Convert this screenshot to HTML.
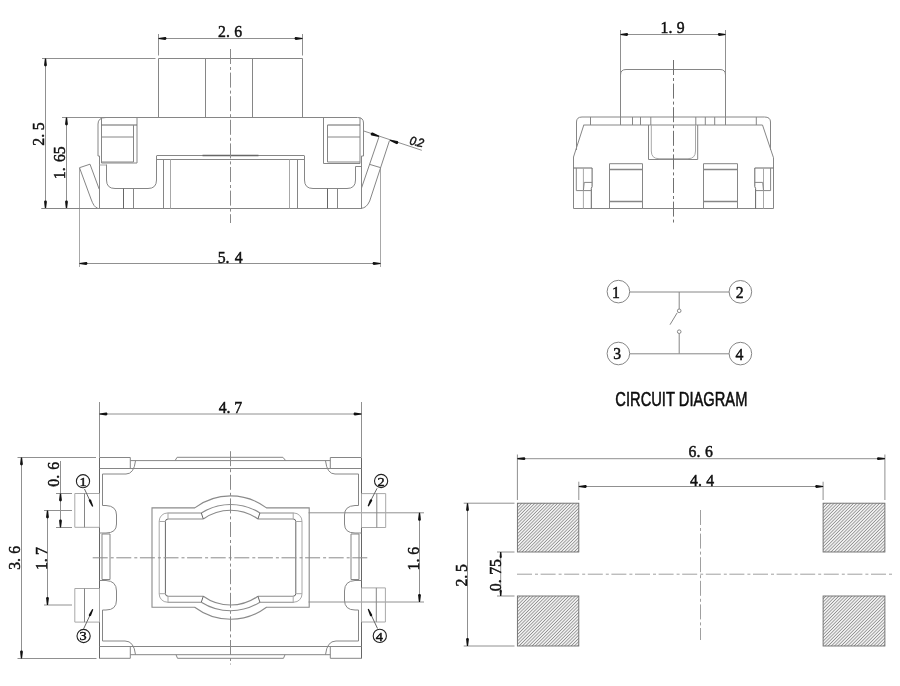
<!DOCTYPE html>
<html><head><meta charset="utf-8"><style>
html,body{margin:0;padding:0;background:#fff;}
svg{display:block;}
</style></head><body>
<svg width="900" height="686" viewBox="0 0 900 686" style="will-change:transform">
<rect width="900" height="686" fill="#fff"/>
<line x1="158.5" y1="34" x2="158.5" y2="55.5" stroke="#909090" stroke-width="1" />
<line x1="302.5" y1="34" x2="302.5" y2="55.5" stroke="#909090" stroke-width="1" />
<line x1="158.5" y1="38.5" x2="302.5" y2="38.5" stroke="#909090" stroke-width="1" />
<path d="M158.50,39.10 L165.10,39.90 C166.90,39.90 166.90,37.10 165.10,37.10 L158.50,37.90 Z" fill="#111" stroke="none"/>
<path d="M302.50,37.90 L295.90,37.10 C294.10,37.10 294.10,39.90 295.90,39.90 L302.50,39.10 Z" fill="#111" stroke="none"/>
<text transform="translate(218.07 37) scale(0.91 1)" x="0" y="0" font-family="Liberation Serif" font-size="17.3" fill="#111" stroke="#111" stroke-width="0.5">2.</text>
<text transform="translate(234.37 37) scale(0.91 1)" x="0" y="0" font-family="Liberation Serif" font-size="17.3" fill="#111" stroke="#111" stroke-width="0.5">6</text>
<line x1="42" y1="58.5" x2="155.5" y2="58.5" stroke="#909090" stroke-width="1" />
<line x1="41.5" y1="208.5" x2="97.5" y2="208.5" stroke="#909090" stroke-width="1" />
<line x1="45.5" y1="58.5" x2="45.5" y2="208.5" stroke="#909090" stroke-width="1" />
<path d="M44.90,58.50 L44.10,65.10 C44.10,66.90 46.90,66.90 46.90,65.10 L46.10,58.50 Z" fill="#111" stroke="none"/>
<path d="M46.10,208.50 L46.90,201.90 C46.90,200.10 44.10,200.10 44.10,201.90 L44.90,208.50 Z" fill="#111" stroke="none"/>
<text transform="translate(44 145.73) rotate(-90) scale(0.91 1)" x="0" y="0" font-family="Liberation Serif" font-size="17.3" fill="#111" stroke="#111" stroke-width="0.5">2.</text>
<text transform="translate(44 130.24) rotate(-90) scale(0.91 1)" x="0" y="0" font-family="Liberation Serif" font-size="17.3" fill="#111" stroke="#111" stroke-width="0.5">5</text>
<line x1="62" y1="117.5" x2="106" y2="117.5" stroke="#909090" stroke-width="1" />
<line x1="66.5" y1="117.5" x2="66.5" y2="208.5" stroke="#909090" stroke-width="1" />
<path d="M65.90,117.50 L65.10,124.10 C65.10,125.90 67.90,125.90 67.90,124.10 L67.10,117.50 Z" fill="#111" stroke="none"/>
<path d="M67.10,208.50 L67.90,201.90 C67.90,200.10 65.10,200.10 65.10,201.90 L65.90,208.50 Z" fill="#111" stroke="none"/>
<text transform="translate(65 179.22) rotate(-90) scale(0.91 1)" x="0" y="0" font-family="Liberation Serif" font-size="17.3" fill="#111" stroke="#111" stroke-width="0.5">1.</text>
<text transform="translate(65 162.03) rotate(-90) scale(0.91 1)" x="0" y="0" font-family="Liberation Serif" font-size="17.3" fill="#111" stroke="#111" stroke-width="0.5">65</text>
<line x1="79.5" y1="168" x2="79.5" y2="267" stroke="#a8a8a8" stroke-width="1" />
<line x1="380.5" y1="168" x2="380.5" y2="267" stroke="#a8a8a8" stroke-width="1" />
<line x1="79.5" y1="263.5" x2="380.5" y2="263.5" stroke="#909090" stroke-width="1" />
<path d="M79.50,264.10 L86.10,264.90 C87.90,264.90 87.90,262.10 86.10,262.10 L79.50,262.90 Z" fill="#111" stroke="none"/>
<path d="M380.50,262.90 L373.90,262.10 C372.10,262.10 372.10,264.90 373.90,264.90 L380.50,264.10 Z" fill="#111" stroke="none"/>
<text transform="translate(217.76 262.9) scale(0.91 1)" x="0" y="0" font-family="Liberation Serif" font-size="17.3" fill="#111" stroke="#111" stroke-width="0.5">5.</text>
<text transform="translate(234.69 262.9) scale(0.91 1)" x="0" y="0" font-family="Liberation Serif" font-size="17.3" fill="#111" stroke="#111" stroke-width="0.5">4</text>
<path d="M158.5,117 V58.5 H302.5 V117" stroke="#868686" stroke-width="1" fill="none" />
<line x1="205.5" y1="58.5" x2="205.5" y2="117" stroke="#868686" stroke-width="1" />
<line x1="252.5" y1="58.5" x2="252.5" y2="117" stroke="#868686" stroke-width="1" />
<path d="M106,117.5 H357.5 Q363.5,117.5 363.5,123 V156 H361.5 V208.5" stroke="#868686" stroke-width="1" fill="none" />
<path d="M106,117.5 Q98,117.5 98,124 V156 H99.5 V208.5" stroke="#868686" stroke-width="1" fill="none" />
<line x1="41.5" y1="208.5" x2="362" y2="208.5" stroke="#868686" stroke-width="1" />
<path d="M101.5,117.5 V163 H137 V117.5" stroke="#868686" stroke-width="1" fill="none" />
<line x1="101.5" y1="125" x2="137" y2="125" stroke="#666" stroke-width="1" />
<line x1="101.5" y1="137" x2="133.5" y2="137" stroke="#868686" stroke-width="1" />
<line x1="133.5" y1="125" x2="133.5" y2="162" stroke="#868686" stroke-width="1" />
<line x1="101.5" y1="162" x2="133.5" y2="162" stroke="#868686" stroke-width="1" />
<line x1="99.5" y1="165" x2="106.4" y2="165" stroke="#a8a8a8" stroke-width="1" />
<path d="M106.5,164.5 V180 Q106.5,188.5 115,188.5 H148 Q156.5,188.5 156.5,180 V156" stroke="#868686" stroke-width="1" fill="none" />
<line x1="156.5" y1="155.5" x2="304.5" y2="155.5" stroke="#868686" stroke-width="1" />
<line x1="156.5" y1="159.5" x2="304.5" y2="159.5" stroke="#868686" stroke-width="1" />
<line x1="202.5" y1="155.5" x2="258.5" y2="155.5" stroke="#666" stroke-width="1.4" />
<line x1="123.5" y1="188.5" x2="123.5" y2="208.5" stroke="#666" stroke-width="1" />
<line x1="133.5" y1="188.5" x2="133.5" y2="208.5" stroke="#868686" stroke-width="1" />
<line x1="163.5" y1="159.5" x2="163.5" y2="208.5" stroke="#868686" stroke-width="1" />
<line x1="170.5" y1="159.5" x2="170.5" y2="208.5" stroke="#a8a8a8" stroke-width="1" />
<line x1="289.5" y1="159.5" x2="289.5" y2="208.5" stroke="#a8a8a8" stroke-width="1" />
<line x1="297.5" y1="159.5" x2="297.5" y2="208.5" stroke="#868686" stroke-width="1" />
<path d="M304.5,156 V180 Q304.5,188.5 313,188.5 H347 Q355.5,188.5 355.5,180 V166.5 H361.5" stroke="#868686" stroke-width="1" fill="none" />
<line x1="327.5" y1="188.5" x2="327.5" y2="208.5" stroke="#666" stroke-width="1" />
<line x1="337.5" y1="188.5" x2="337.5" y2="208.5" stroke="#868686" stroke-width="1" />
<path d="M323.5,117.5 V163.5 H360 V117.5" stroke="#868686" stroke-width="1" fill="none" />
<line x1="327.5" y1="125" x2="360" y2="125" stroke="#666" stroke-width="1" />
<line x1="327.5" y1="137" x2="360" y2="137" stroke="#868686" stroke-width="1" />
<line x1="327.5" y1="125" x2="327.5" y2="162" stroke="#868686" stroke-width="1" />
<line x1="327.5" y1="162" x2="360" y2="162" stroke="#868686" stroke-width="1" />
<path d="M79.5,167.7 L90,164.2 L99.2,189.2 M79.5,167.7 L91,199 Q94,207.5 97.5,208" stroke="#868686" stroke-width="1" fill="none" />
<path d="M379,136.8 L361.5,188" stroke="#868686" stroke-width="1" fill="none" />
<path d="M389.5,140.5 L369.7,201 Q366.5,208 361.5,208.3" stroke="#868686" stroke-width="1" fill="none" />
<line x1="369.7" y1="164.4" x2="380.8" y2="167.7" stroke="#868686" stroke-width="1" />
<line x1="363.8" y1="131" x2="421.8" y2="150.3" stroke="#909090" stroke-width="1" />
<path d="M379.20,135.83 L372.66,132.49 C370.96,131.89 369.91,134.91 371.60,135.51 L378.80,136.97 Z" fill="#111" stroke="none"/>
<path d="M389.80,140.77 L396.34,144.11 C398.04,144.71 399.09,141.69 397.40,141.09 L390.20,139.63 Z" fill="#111" stroke="none"/>
<text transform="translate(409 144.3) rotate(12) scale(0.95 1)" x="0" y="0" font-family="Liberation Sans" font-size="12" font-style="italic" letter-spacing="-0.8" fill="#111" stroke="#111" stroke-width="0.45">0.2</text>
<line x1="230.5" y1="49" x2="230.5" y2="223" stroke="#8a8a8a" stroke-width="1" stroke-dasharray="15 3 3 2.6" stroke-dashoffset="0"/>
<line x1="620.5" y1="30" x2="620.5" y2="116" stroke="#909090" stroke-width="1" />
<line x1="725.5" y1="30" x2="725.5" y2="116" stroke="#909090" stroke-width="1" />
<line x1="620.5" y1="34.5" x2="725.5" y2="34.5" stroke="#909090" stroke-width="1" />
<path d="M620.50,35.10 L626.80,35.90 C628.60,35.90 628.60,33.10 626.80,33.10 L620.50,33.90 Z" fill="#111" stroke="none"/>
<path d="M725.50,33.90 L719.20,33.10 C717.40,33.10 717.40,35.90 719.20,35.90 L725.50,35.10 Z" fill="#111" stroke="none"/>
<text transform="translate(660.58 32.9) scale(0.91 1)" x="0" y="0" font-family="Liberation Serif" font-size="17.3" fill="#111" stroke="#111" stroke-width="0.5">1.</text>
<text transform="translate(676.83 32.9) scale(0.91 1)" x="0" y="0" font-family="Liberation Serif" font-size="17.3" fill="#111" stroke="#111" stroke-width="0.5">9</text>
<path d="M620.5,117 V75 Q620.5,69.5 626,69.5 H720 Q725.5,69.5 725.5,75 V117" stroke="#868686" stroke-width="1" fill="none" />
<path d="M582,117 H764.5 Q770.5,117 770.5,122 V150" stroke="#868686" stroke-width="1" fill="none" />
<path d="M582,117 Q576.5,117 576.5,122 V150" stroke="#868686" stroke-width="1" fill="none" />
<line x1="583.5" y1="125" x2="762.5" y2="125" stroke="#868686" stroke-width="1" />
<path d="M583.8,125 L573.5,157 V208.5 H773.5 V157.8 L762.5,125" stroke="#868686" stroke-width="1" fill="none" />
<line x1="590.5" y1="117" x2="590.5" y2="125" stroke="#868686" stroke-width="1" />
<line x1="620.5" y1="117" x2="620.5" y2="125" stroke="#868686" stroke-width="1" />
<line x1="632.5" y1="117" x2="632.5" y2="125" stroke="#868686" stroke-width="1" />
<line x1="640.5" y1="117" x2="640.5" y2="125" stroke="#868686" stroke-width="1" />
<line x1="650.8" y1="117" x2="650.8" y2="125" stroke="#868686" stroke-width="1" />
<line x1="695.8" y1="117" x2="695.8" y2="125" stroke="#868686" stroke-width="1" />
<line x1="705.3" y1="117" x2="705.3" y2="125" stroke="#868686" stroke-width="1" />
<line x1="714.7" y1="117" x2="714.7" y2="125" stroke="#868686" stroke-width="1" />
<line x1="725.5" y1="117" x2="725.5" y2="125" stroke="#868686" stroke-width="1" />
<line x1="756.3" y1="117" x2="756.3" y2="125" stroke="#868686" stroke-width="1" />
<path d="M648.5,125 V159.5 H697.7 V125" stroke="#868686" stroke-width="1" fill="none" />
<path d="M651.3,125 V151 Q651.3,158.7 659,158.7 H688 Q695.5,158.7 695.5,151 V125" stroke="#a8a8a8" stroke-width="1" fill="none" />
<path d="M609.5,208.5 V163.7 H642.5 V208.5" stroke="#868686" stroke-width="1" fill="none" />
<line x1="609.5" y1="169.5" x2="642.5" y2="169.5" stroke="#868686" stroke-width="1.4" />
<line x1="609.5" y1="201.5" x2="642.5" y2="201.5" stroke="#868686" stroke-width="1.4" />
<path d="M703.5,208.5 V163.7 H737.5 V208.5" stroke="#868686" stroke-width="1" fill="none" />
<line x1="703.5" y1="169.5" x2="737.5" y2="169.5" stroke="#868686" stroke-width="1.4" />
<line x1="703.5" y1="201.5" x2="737.5" y2="201.5" stroke="#868686" stroke-width="1.4" />
<path d="M573.65,168 H592.10 V186.6 L591.30,188.5 V208.5" stroke="#666" stroke-width="1" fill="none" />
<path d="M576.30,168 V190.6 H591.30" stroke="#868686" stroke-width="1" fill="none" />
<line x1="583.40" y1="168" x2="583.40" y2="208.5" stroke="#a8a8a8" stroke-width="1" />
<path d="M592.10,182.4 H584.20 L583.40,190.6" stroke="#868686" stroke-width="1" fill="none" />
<path d="M773.25,168 H754.80 V186.6 L755.60,188.5 V208.5" stroke="#666" stroke-width="1" fill="none" />
<path d="M770.60,168 V190.6 H755.60" stroke="#868686" stroke-width="1" fill="none" />
<line x1="763.50" y1="168" x2="763.50" y2="208.5" stroke="#a8a8a8" stroke-width="1" />
<path d="M754.80,182.4 H762.70 L763.50,190.6" stroke="#868686" stroke-width="1" fill="none" />
<line x1="673.5" y1="60" x2="673.5" y2="222.5" stroke="#707070" stroke-width="1" stroke-dasharray="15 3 3 2.6" stroke-dashoffset="0"/>
<circle cx="618.4" cy="291.6" r="11.3" stroke="#868686" stroke-width="1" fill="none"/>
<circle cx="740.4" cy="291.8" r="11.3" stroke="#868686" stroke-width="1" fill="none"/>
<circle cx="618.4" cy="353.5" r="11.3" stroke="#868686" stroke-width="1" fill="none"/>
<circle cx="740.4" cy="353.6" r="11.3" stroke="#868686" stroke-width="1" fill="none"/>
<text transform="translate(612.08 297.6) scale(0.91 1)" x="0" y="0" font-family="Liberation Serif" font-size="17.3" fill="#111" stroke="#111" stroke-width="0.5">1</text>
<text transform="translate(735.67 297.8) scale(0.91 1)" x="0" y="0" font-family="Liberation Serif" font-size="17.3" fill="#111" stroke="#111" stroke-width="0.5">2</text>
<text transform="translate(613.21 359.4) scale(0.91 1)" x="0" y="0" font-family="Liberation Serif" font-size="17.3" fill="#111" stroke="#111" stroke-width="0.5">3</text>
<text transform="translate(735.59 359.7) scale(0.91 1)" x="0" y="0" font-family="Liberation Serif" font-size="17.3" fill="#111" stroke="#111" stroke-width="0.5">4</text>
<line x1="629.7" y1="292" x2="729.1" y2="292" stroke="#868686" stroke-width="1" />
<line x1="629.7" y1="353.8" x2="729.1" y2="353.8" stroke="#868686" stroke-width="1" />
<line x1="679.2" y1="292" x2="679.2" y2="309" stroke="#868686" stroke-width="1" />
<circle cx="679.2" cy="310.8" r="1.8" stroke="#868686" stroke-width="1" fill="none"/>
<line x1="677.2" y1="312.8" x2="670" y2="324.7" stroke="#868686" stroke-width="1" />
<circle cx="679.2" cy="331.7" r="1.8" stroke="#868686" stroke-width="1" fill="none"/>
<line x1="679.2" y1="333.5" x2="679.2" y2="353.6" stroke="#868686" stroke-width="1" />
<text transform="translate(615.3 405.6) scale(0.725 1)" x="0" y="0" font-family="Liberation Sans" font-size="20.3" fill="#111" stroke="#000" stroke-width="0.5">CIRCUIT DIAGRAM</text>
<line x1="99.5" y1="402" x2="99.5" y2="457" stroke="#909090" stroke-width="1" />
<line x1="361.5" y1="402" x2="361.5" y2="457" stroke="#909090" stroke-width="1" />
<line x1="99.5" y1="414" x2="361.5" y2="414" stroke="#909090" stroke-width="1" />
<path d="M99.50,414.60 L106.10,415.40 C107.90,415.40 107.90,412.60 106.10,412.60 L99.50,413.40 Z" fill="#111" stroke="none"/>
<path d="M361.50,413.40 L354.90,412.60 C353.10,412.60 353.10,415.40 354.90,415.40 L361.50,414.60 Z" fill="#111" stroke="none"/>
<text transform="translate(218.69 412.9) scale(0.91 1)" x="0" y="0" font-family="Liberation Serif" font-size="17.3" fill="#111" stroke="#111" stroke-width="0.5">4.</text>
<text transform="translate(234.20 412.9) scale(0.91 1)" x="0" y="0" font-family="Liberation Serif" font-size="17.3" fill="#111" stroke="#111" stroke-width="0.5">7</text>
<line x1="17.5" y1="457.5" x2="96" y2="457.5" stroke="#909090" stroke-width="1" />
<line x1="17.5" y1="658.5" x2="96.5" y2="658.5" stroke="#909090" stroke-width="1" />
<line x1="21.5" y1="457.5" x2="21.5" y2="658.5" stroke="#909090" stroke-width="1" />
<path d="M20.90,457.50 L20.10,464.10 C20.10,465.90 22.90,465.90 22.90,464.10 L22.10,457.50 Z" fill="#111" stroke="none"/>
<path d="M22.10,658.50 L22.90,651.90 C22.90,650.10 20.10,650.10 20.10,651.90 L20.90,658.50 Z" fill="#111" stroke="none"/>
<text transform="translate(20.2 569.79) rotate(-90) scale(0.91 1)" x="0" y="0" font-family="Liberation Serif" font-size="17.3" fill="#111" stroke="#111" stroke-width="0.5">3.</text>
<text transform="translate(20.2 553.63) rotate(-90) scale(0.91 1)" x="0" y="0" font-family="Liberation Serif" font-size="17.3" fill="#111" stroke="#111" stroke-width="0.5">6</text>
<line x1="56" y1="493.5" x2="72" y2="493.5" stroke="#909090" stroke-width="1" />
<line x1="56" y1="527.5" x2="72" y2="527.5" stroke="#909090" stroke-width="1" />
<line x1="60.5" y1="461" x2="60.5" y2="527.5" stroke="#909090" stroke-width="1" />
<path d="M59.90,493.50 L59.10,500.10 C59.10,501.90 61.90,501.90 61.90,500.10 L61.10,493.50 Z" fill="#111" stroke="none"/>
<path d="M61.10,527.50 L61.90,520.90 C61.90,519.10 59.10,519.10 59.10,520.90 L59.90,527.50 Z" fill="#111" stroke="none"/>
<text transform="translate(59.2 486.73) rotate(-90) scale(0.91 1)" x="0" y="0" font-family="Liberation Serif" font-size="17.3" fill="#111" stroke="#111" stroke-width="0.5">0.</text>
<text transform="translate(59.2 469.63) rotate(-90) scale(0.91 1)" x="0" y="0" font-family="Liberation Serif" font-size="17.3" fill="#111" stroke="#111" stroke-width="0.5">6</text>
<line x1="44" y1="510.5" x2="72" y2="510.5" stroke="#909090" stroke-width="1" />
<line x1="44" y1="605" x2="72" y2="605" stroke="#909090" stroke-width="1" />
<line x1="47.5" y1="510.5" x2="47.5" y2="605" stroke="#909090" stroke-width="1" />
<path d="M46.90,510.50 L46.10,517.10 C46.10,518.90 48.90,518.90 48.90,517.10 L48.10,510.50 Z" fill="#111" stroke="none"/>
<path d="M48.10,605.00 L48.90,598.40 C48.90,596.60 46.10,596.60 46.10,598.40 L46.90,605.00 Z" fill="#111" stroke="none"/>
<text transform="translate(46.8 570.02) rotate(-90) scale(0.91 1)" x="0" y="0" font-family="Liberation Serif" font-size="17.3" fill="#111" stroke="#111" stroke-width="0.5">1.</text>
<text transform="translate(46.8 555.10) rotate(-90) scale(0.91 1)" x="0" y="0" font-family="Liberation Serif" font-size="17.3" fill="#111" stroke="#111" stroke-width="0.5">7</text>
<line x1="308.5" y1="512.8" x2="424" y2="512.8" stroke="#909090" stroke-width="1" />
<line x1="308.5" y1="602" x2="424" y2="602" stroke="#909090" stroke-width="1" />
<line x1="419.5" y1="512.8" x2="419.5" y2="602" stroke="#909090" stroke-width="1" />
<path d="M418.90,512.80 L418.10,519.40 C418.10,521.20 420.90,521.20 420.90,519.40 L420.10,512.80 Z" fill="#111" stroke="none"/>
<path d="M420.10,602.00 L420.90,595.40 C420.90,593.60 418.10,593.60 418.10,595.40 L418.90,602.00 Z" fill="#111" stroke="none"/>
<text transform="translate(418.8 570.42) rotate(-90) scale(0.91 1)" x="0" y="0" font-family="Liberation Serif" font-size="17.3" fill="#111" stroke="#111" stroke-width="0.5">1.</text>
<text transform="translate(418.8 554.73) rotate(-90) scale(0.91 1)" x="0" y="0" font-family="Liberation Serif" font-size="17.3" fill="#111" stroke="#111" stroke-width="0.5">6</text>
<line x1="99.5" y1="457.5" x2="99.5" y2="658.5" stroke="#666" stroke-width="1" />
<line x1="361.5" y1="457.5" x2="361.5" y2="658.5" stroke="#666" stroke-width="1" />
<line x1="99.5" y1="457.5" x2="130.3" y2="457.5" stroke="#868686" stroke-width="1" />
<line x1="330.3" y1="457.5" x2="361.5" y2="457.5" stroke="#868686" stroke-width="1" />
<line x1="130.3" y1="457.5" x2="130.3" y2="468.5" stroke="#868686" stroke-width="1" />
<line x1="330.3" y1="457.5" x2="330.3" y2="468.5" stroke="#868686" stroke-width="1" />
<line x1="130.3" y1="460.6" x2="330.3" y2="460.6" stroke="#868686" stroke-width="1" />
<path d="M175.1,460.6 L177.1,457.3 H282.9 L285.7,460.6" stroke="#868686" stroke-width="1" fill="none" />
<line x1="99.5" y1="468.5" x2="361.5" y2="468.5" stroke="#868686" stroke-width="1" />
<line x1="99.5" y1="658.3" x2="130.3" y2="658.3" stroke="#868686" stroke-width="1" />
<line x1="330.3" y1="658.3" x2="361.5" y2="658.3" stroke="#868686" stroke-width="1" />
<line x1="130.3" y1="646.5" x2="130.3" y2="658.3" stroke="#868686" stroke-width="1" />
<line x1="330.3" y1="646.5" x2="330.3" y2="658.3" stroke="#868686" stroke-width="1" />
<line x1="130.3" y1="654.7" x2="330.3" y2="654.7" stroke="#868686" stroke-width="1" />
<path d="M176,654.7 L177.5,658.3 H283.5 L285,654.7" stroke="#868686" stroke-width="1" fill="none" />
<line x1="99.5" y1="646.5" x2="361.5" y2="646.5" stroke="#868686" stroke-width="1" />
<path d="M135.5,460.8 Q134,474 126,474 H102.5 V505.5 H106 Q116.5,506 116.5,515 V524 Q116.5,533 106,533 H99.5" stroke="#868686" stroke-width="1" fill="none" />
<path d="M102,534 V579.5 H110 V534 Z" stroke="#868686" stroke-width="1" fill="none" />
<path d="M99.5,580.5 H106 Q116.5,581 116.5,591 V600 Q116.5,610 106,610 H102.5 V641 H125 Q134,641 135.5,654.7" stroke="#868686" stroke-width="1" fill="none" />
<path d="M325.5,460.8 Q327,474 335,474 H358.5 V505.5 H355 Q344.5,506 344.5,515 V524 Q344.5,533 355,533 H361.5" stroke="#868686" stroke-width="1" fill="none" />
<path d="M359,534 V579.5 H351 V534 Z" stroke="#868686" stroke-width="1" fill="none" />
<path d="M361.5,580.5 H355 Q344.5,581 344.5,591 V600 Q344.5,610 355,610 H358.5 V641 H336 Q327,641 325.5,654.7" stroke="#868686" stroke-width="1" fill="none" />
<path d="M74.8,493.5 H99.5 V527.3 H74.8 Z" stroke="#a8a8a8" stroke-width="1" fill="none" />
<line x1="84.5" y1="493.5" x2="84.5" y2="527.3" stroke="#868686" stroke-width="1" />
<path d="M361.5,493.6 H385.7 V527.5 H361.5 Z" stroke="#a8a8a8" stroke-width="1" fill="none" />
<line x1="376.8" y1="493.6" x2="376.8" y2="527.5" stroke="#868686" stroke-width="1" />
<path d="M74.8,588.5 H99.5 V622.1 H74.8 Z" stroke="#a8a8a8" stroke-width="1" fill="none" />
<line x1="84.5" y1="588.5" x2="84.5" y2="622.1" stroke="#868686" stroke-width="1" />
<path d="M361.5,587.9 H385.4 V622 H361.5 Z" stroke="#a8a8a8" stroke-width="1" fill="none" />
<line x1="376.3" y1="587.9" x2="376.3" y2="622" stroke="#868686" stroke-width="1" />
<path d="M152,507.9 H194.7 A59.7,59.7 0 0 1 266.5,507.9 H309.2 V607.3 H266.5 A59.7,59.7 0 0 1 194.7,607.3 H152 Z" stroke="#8a8a8a" stroke-width="1.1" fill="none" />
<path d="M201.3,513 A54.75,54.75 0 0 1 259.9,513" stroke="#8a8a8a" stroke-width="1.1" fill="none" />
<path d="M203.3,519 A46.7,46.7 0 0 1 257.9,519" stroke="#8a8a8a" stroke-width="1.1" fill="none" />
<path d="M201.3,602.2 A54.75,54.75 0 0 0 259.9,602.2" stroke="#8a8a8a" stroke-width="1.1" fill="none" />
<path d="M203.3,596.2 A46.7,46.7 0 0 0 257.9,596.2" stroke="#8a8a8a" stroke-width="1.1" fill="none" />
<line x1="167.3" y1="513.0" x2="201.3" y2="513.0" stroke="#8a8a8a" stroke-width="1.1" />
<line x1="168.0" y1="519.0" x2="203.3" y2="519.0" stroke="#8a8a8a" stroke-width="1.1" />
<path d="M167.3,513.0 A8.2,8.2 0 0 0 159.2,521.3 L159.2,557.6" stroke="#a8a8a8" stroke-width="1" fill="none" />
<path d="M168.0,519.0 A2.6,2.6 0 0 0 165.4,521.5 L165.4,557.6" stroke="#666" stroke-width="1" fill="none" />
<line x1="168.0" y1="513.0" x2="168.0" y2="519.0" stroke="#a8a8a8" stroke-width="1" />
<line x1="159.2" y1="521.5" x2="165.4" y2="521.5" stroke="#a8a8a8" stroke-width="1" />
<line x1="201.3" y1="513.0" x2="203.3" y2="519.0" stroke="#666" stroke-width="1" />
<line x1="167.3" y1="602.2" x2="201.3" y2="602.2" stroke="#8a8a8a" stroke-width="1.1" />
<line x1="168.0" y1="596.2" x2="203.3" y2="596.2" stroke="#8a8a8a" stroke-width="1.1" />
<path d="M167.3,602.2 A8.2,8.2 0 0 1 159.2,593.9 L159.2,557.6" stroke="#a8a8a8" stroke-width="1" fill="none" />
<path d="M168.0,596.2 A2.6,2.6 0 0 1 165.4,593.7 L165.4,557.6" stroke="#666" stroke-width="1" fill="none" />
<line x1="168.0" y1="602.2" x2="168.0" y2="596.2" stroke="#a8a8a8" stroke-width="1" />
<line x1="159.2" y1="593.7" x2="165.4" y2="593.7" stroke="#a8a8a8" stroke-width="1" />
<line x1="201.3" y1="602.2" x2="203.3" y2="596.2" stroke="#666" stroke-width="1" />
<line x1="293.9" y1="513.0" x2="259.9" y2="513.0" stroke="#8a8a8a" stroke-width="1.1" />
<line x1="293.2" y1="519.0" x2="257.9" y2="519.0" stroke="#8a8a8a" stroke-width="1.1" />
<path d="M293.9,513.0 A8.2,8.2 0 0 1 302.0,521.3 L302.0,557.6" stroke="#a8a8a8" stroke-width="1" fill="none" />
<path d="M293.2,519.0 A2.6,2.6 0 0 1 295.8,521.5 L295.8,557.6" stroke="#666" stroke-width="1" fill="none" />
<line x1="293.2" y1="513.0" x2="293.2" y2="519.0" stroke="#a8a8a8" stroke-width="1" />
<line x1="302.0" y1="521.5" x2="295.8" y2="521.5" stroke="#a8a8a8" stroke-width="1" />
<line x1="259.9" y1="513.0" x2="257.9" y2="519.0" stroke="#666" stroke-width="1" />
<line x1="293.9" y1="602.2" x2="259.9" y2="602.2" stroke="#8a8a8a" stroke-width="1.1" />
<line x1="293.2" y1="596.2" x2="257.9" y2="596.2" stroke="#8a8a8a" stroke-width="1.1" />
<path d="M293.9,602.2 A8.2,8.2 0 0 0 302.0,593.9 L302.0,557.6" stroke="#a8a8a8" stroke-width="1" fill="none" />
<path d="M293.2,596.2 A2.6,2.6 0 0 0 295.8,593.7 L295.8,557.6" stroke="#666" stroke-width="1" fill="none" />
<line x1="293.2" y1="602.2" x2="293.2" y2="596.2" stroke="#a8a8a8" stroke-width="1" />
<line x1="302.0" y1="593.7" x2="295.8" y2="593.7" stroke="#a8a8a8" stroke-width="1" />
<line x1="259.9" y1="602.2" x2="257.9" y2="596.2" stroke="#666" stroke-width="1" />
<circle cx="83" cy="481.2" r="6.6" stroke="#222" stroke-width="1.1" fill="none"/>
<circle cx="381.1" cy="481" r="6.6" stroke="#222" stroke-width="1.1" fill="none"/>
<circle cx="83.6" cy="636" r="6.6" stroke="#222" stroke-width="1.1" fill="none"/>
<circle cx="379.8" cy="635.9" r="6.6" stroke="#222" stroke-width="1.1" fill="none"/>
<text transform="translate(79.61 485.6) scale(1.1 1)" x="0" y="0" font-family="Liberation Serif" font-size="13" fill="#111" stroke="#111" stroke-width="0.45">1</text>
<text transform="translate(377.53 485.5) scale(1.1 1)" x="0" y="0" font-family="Liberation Serif" font-size="13" fill="#111" stroke="#111" stroke-width="0.45">2</text>
<text transform="translate(79.38 640.2) scale(1.1 1)" x="0" y="0" font-family="Liberation Serif" font-size="13" fill="#111" stroke="#111" stroke-width="0.45">3</text>
<text transform="translate(375.81 640.5) scale(1.1 1)" x="0" y="0" font-family="Liberation Serif" font-size="13" fill="#111" stroke="#111" stroke-width="0.45">4</text>
<line x1="84.5" y1="489" x2="91" y2="503" stroke="#666" stroke-width="1" />
<path d="M93.25,506.25 L91.09,500.09 C90.34,498.46 88.16,499.45 88.91,501.09 L92.15,506.75 Z" fill="#111" stroke="none"/>
<line x1="377.1" y1="488.3" x2="369.5" y2="503" stroke="#666" stroke-width="1" />
<path d="M368.74,506.56 L372.06,501.10 C372.84,499.48 370.68,498.44 369.90,500.06 L367.66,506.04 Z" fill="#111" stroke="none"/>
<line x1="83.6" y1="628.9" x2="91" y2="613" stroke="#666" stroke-width="1" />
<path d="M92.26,608.94 L88.94,614.40 C88.16,616.02 90.32,617.06 91.10,615.44 L93.34,609.46 Z" fill="#111" stroke="none"/>
<line x1="377.5" y1="628.5" x2="370" y2="612.5" stroke="#666" stroke-width="1" />
<path d="M367.66,609.15 L369.91,615.42 C370.66,617.05 372.84,616.04 372.08,614.41 L368.74,608.65 Z" fill="#111" stroke="none"/>
<line x1="92.7" y1="557.8" x2="368" y2="557.8" stroke="#8a8a8a" stroke-width="1" stroke-dasharray="15 3 3 2.6" stroke-dashoffset="0"/>
<line x1="230.5" y1="451.2" x2="230.5" y2="664.5" stroke="#8a8a8a" stroke-width="1" stroke-dasharray="15 3 3 2.6" stroke-dashoffset="0"/>
<defs><pattern id="hatch" width="2.3" height="2.3" patternUnits="userSpaceOnUse" patternTransform="rotate(45)"><rect width="2.3" height="2.3" fill="#f0f0f0"/><rect width="0.75" height="2.3" fill="#8e8e8e"/></pattern></defs>
<rect x="517.4" y="503.2" width="61.4" height="48.8" fill="url(#hatch)" stroke="#6a6a6a" stroke-width="0.9"/>
<rect x="517.4" y="596" width="61.4" height="50.0" fill="url(#hatch)" stroke="#6a6a6a" stroke-width="0.9"/>
<rect x="823.1" y="503.2" width="61.8" height="48.8" fill="url(#hatch)" stroke="#6a6a6a" stroke-width="0.9"/>
<rect x="823.1" y="596" width="61.8" height="50.0" fill="url(#hatch)" stroke="#6a6a6a" stroke-width="0.9"/>
<line x1="517.4" y1="454.5" x2="517.4" y2="500" stroke="#909090" stroke-width="1" />
<line x1="884.9" y1="454.5" x2="884.9" y2="500" stroke="#909090" stroke-width="1" />
<line x1="517.4" y1="458.7" x2="884.9" y2="458.7" stroke="#909090" stroke-width="1" />
<path d="M517.40,459.30 L524.00,460.10 C525.80,460.10 525.80,457.30 524.00,457.30 L517.40,458.10 Z" fill="#111" stroke="none"/>
<path d="M884.90,458.10 L878.30,457.30 C876.50,457.30 876.50,460.10 878.30,460.10 L884.90,459.30 Z" fill="#111" stroke="none"/>
<text transform="translate(688.57 457.4) scale(0.91 1)" x="0" y="0" font-family="Liberation Serif" font-size="17.3" fill="#111" stroke="#111" stroke-width="0.5">6.</text>
<text transform="translate(705.07 457.4) scale(0.91 1)" x="0" y="0" font-family="Liberation Serif" font-size="17.3" fill="#111" stroke="#111" stroke-width="0.5">6</text>
<line x1="578.8" y1="481.7" x2="578.8" y2="500" stroke="#909090" stroke-width="1" />
<line x1="823.1" y1="481.7" x2="823.1" y2="500" stroke="#909090" stroke-width="1" />
<line x1="578.8" y1="486.5" x2="823.1" y2="486.5" stroke="#909090" stroke-width="1" />
<path d="M578.80,487.10 L585.40,487.90 C587.20,487.90 587.20,485.10 585.40,485.10 L578.80,485.90 Z" fill="#111" stroke="none"/>
<path d="M823.10,485.90 L816.50,485.10 C814.70,485.10 814.70,487.90 816.50,487.90 L823.10,487.10 Z" fill="#111" stroke="none"/>
<text transform="translate(690.09 485.9) scale(0.91 1)" x="0" y="0" font-family="Liberation Serif" font-size="17.3" fill="#111" stroke="#111" stroke-width="0.5">4.</text>
<text transform="translate(706.19 485.9) scale(0.91 1)" x="0" y="0" font-family="Liberation Serif" font-size="17.3" fill="#111" stroke="#111" stroke-width="0.5">4</text>
<line x1="463.7" y1="503.2" x2="514.5" y2="503.2" stroke="#909090" stroke-width="1" />
<line x1="463.7" y1="646" x2="514.5" y2="646" stroke="#909090" stroke-width="1" />
<line x1="467.5" y1="503.2" x2="467.5" y2="646" stroke="#909090" stroke-width="1" />
<path d="M466.90,503.20 L466.10,509.80 C466.10,511.60 468.90,511.60 468.90,509.80 L468.10,503.20 Z" fill="#111" stroke="none"/>
<path d="M468.10,646.00 L468.90,639.40 C468.90,637.60 466.10,637.60 466.10,639.40 L466.90,646.00 Z" fill="#111" stroke="none"/>
<text transform="translate(466.7 586.53) rotate(-90) scale(0.91 1)" x="0" y="0" font-family="Liberation Serif" font-size="17.3" fill="#111" stroke="#111" stroke-width="0.5">2.</text>
<text transform="translate(466.7 572.04) rotate(-90) scale(0.91 1)" x="0" y="0" font-family="Liberation Serif" font-size="17.3" fill="#111" stroke="#111" stroke-width="0.5">5</text>
<line x1="497" y1="552" x2="514.5" y2="552" stroke="#909090" stroke-width="1" />
<line x1="497" y1="596" x2="514.5" y2="596" stroke="#909090" stroke-width="1" />
<line x1="500.7" y1="552" x2="500.7" y2="596" stroke="#909090" stroke-width="1" />
<path d="M500.10,552.00 L499.60,556.80 C499.60,558.60 501.80,558.60 501.80,556.80 L501.30,552.00 Z" fill="#111" stroke="none"/>
<path d="M501.30,596.00 L501.80,591.20 C501.80,589.40 499.60,589.40 499.60,591.20 L500.10,596.00 Z" fill="#111" stroke="none"/>
<text transform="translate(500.5 591.13) rotate(-90) scale(0.91 1)" x="0" y="0" font-family="Liberation Serif" font-size="17.3" fill="#111" stroke="#111" stroke-width="0.5">0.</text>
<text transform="translate(500.5 574.80) rotate(-90) scale(0.91 1)" x="0" y="0" font-family="Liberation Serif" font-size="17.3" fill="#111" stroke="#111" stroke-width="0.5">75</text>
<line x1="514.5" y1="574.2" x2="892" y2="574.2" stroke="#a0a0a0" stroke-width="1" stroke-dasharray="15 3 3 2.6" stroke-dashoffset="-2.5"/>
<line x1="700.5" y1="510" x2="700.5" y2="640" stroke="#a0a0a0" stroke-width="1" stroke-dasharray="15 3 3 2.6" stroke-dashoffset="0"/>
</svg></body></html>
